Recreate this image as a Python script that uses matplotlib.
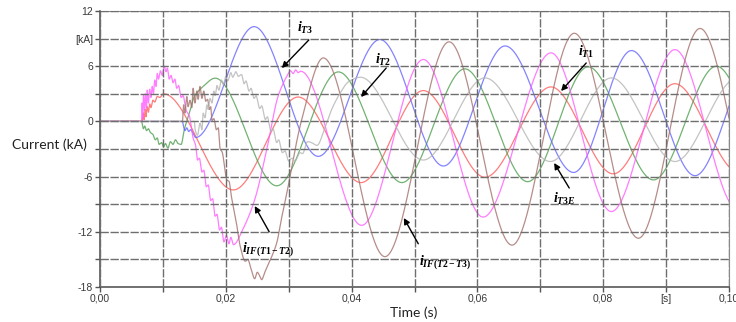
import numpy as np
import matplotlib
matplotlib.use("Agg")
import matplotlib.pyplot as plt

plt.rcParams['mathtext.fontset'] = 'custom'
plt.rcParams['mathtext.it'] = 'Liberation Serif:italic:bold'
plt.rcParams['mathtext.rm'] = 'Liberation Serif:bold'
plt.rcParams['mathtext.bf'] = 'Liberation Serif:bold'

# ---------------- data (time in s, current in kA) ----------------
red_t = [0, 0.0067, 0.0069, 0.0070, 0.0072, 0.0073, 0.0075, 0.0077, 0.0079, 0.0081, 0.0084,
         0.0087, 0.0091, 0.0095, 0.0101, 0.0212, 0.0315, 0.0415, 0.0514, 0.0612, 0.0717,
         0.0816, 0.0914, 0.1015]
red_v = [0, 0, 0.9, 0.2, 1.3, 0.5, 1.6, 1.0, 1.9, 1.5, 2.3,
         2.1, 2.7, 2.6, 3.0, -7.45, 2.65, -6.65, 3.35, -6.07, 3.75,
         -5.7, 4.1, -5.5]

green_t = [0, 0.0066, 0.0069, 0.0071, 0.0074, 0.0077, 0.0080, 0.0084, 0.0088, 0.0091, 0.0094,
           0.0098, 0.0101, 0.0104, 0.0108, 0.0112, 0.0116, 0.0120, 0.0124, 0.0129, 0.0134,
           0.0142, 0.0150, 0.0164, 0.0183, 0.0281, 0.0379, 0.0480, 0.0580, 0.0680, 0.0776,
           0.0880, 0.0980, 0.1080]
green_v = [0, 0, -0.8, -0.5, -1.0, -0.8, -1.2, -1.4, -2.0, -1.8, -2.5,
           -2.3, -2.8, -2.4, -2.9, -2.2, -2.5, -2.0, -2.4, -2.5, -0.9,
           0.9, 2.7, 3.8, 4.7, -7.0, 5.38, -6.65, 5.71, -6.55, 5.93,
           -6.36, 6.0, -6.3]

blue_t = [0, 0.0131, 0.0133, 0.0135, 0.0138, 0.0141, 0.0144, 0.0148, 0.0152, 0.0245, 0.0347,
          0.0445, 0.0546, 0.0644, 0.0753, 0.0845, 0.0946, 0.1045]
blue_v = [0, 0, -0.6, -1.0, -0.7, -1.1, -0.9, -1.3, -1.75, 10.3, -3.8,
          8.9, -4.85, 8.2, -5.55, 7.7, -5.9, 7.4]

magenta_t = [0, 0.0066, 0.0067, 0.0068, 0.0069, 0.0071, 0.0072, 0.0074, 0.0075, 0.0077, 0.0079,
             0.0081, 0.0083, 0.0085, 0.0087, 0.0089, 0.0091, 0.0093, 0.0096, 0.0099, 0.0102,
             0.0105, 0.0107, 0.0110, 0.0113, 0.0116, 0.0119, 0.0122, 0.0125, 0.0129, 0.0132,
             0.0137, 0.0142, 0.0148, 0.0152, 0.0155, 0.0158, 0.0162, 0.0165, 0.0169, 0.0172,
             0.0176, 0.0179, 0.0183, 0.0186, 0.0190, 0.0193, 0.0197, 0.0201, 0.0205, 0.0208,
             0.0212, 0.0228, 0.0246, 0.0265, 0.0283, 0.0297, 0.0303, 0.0307, 0.0311, 0.0315,
             0.0319, 0.0416, 0.0514, 0.0609, 0.0717, 0.0813, 0.0914, 0.1013]
magenta_v = [0, 0, 2.0, 0.3, 2.8, 1.2, 3.0, 1.5, 3.4, 2.0, 3.5,
             2.6, 3.8, 3.0, 4.5, 3.8, 5.2, 4.6, 5.5, 5.0, 6.0,
             5.4, 5.8, 4.6, 5.0, 4.2, 4.6, 3.6, 3.9, 2.6, 2.8,
             1.2, 0.6, -1.8, -2.6, -4.2, -4.0, -5.5, -5.3, -7.1, -6.9,
             -8.6, -8.4, -10.3, -10.1, -11.8, -11.5, -13.1, -12.4, -13.3, -12.6,
             -13.4, -11.6, -8.5, -3.1, 2.7, 4.9, 5.5, 5.2, 5.6, 5.3,
             5.45, -11.3, 6.73, -10.4, 7.45, -9.8, 7.8, -9.5]

brown_t = [0, 0.0131, 0.0133, 0.0135, 0.0138, 0.0140, 0.0143, 0.0146, 0.0148, 0.0151, 0.0154,
           0.0156, 0.0159, 0.0162, 0.0165, 0.0168, 0.0171, 0.0174, 0.0176, 0.0178, 0.0181,
           0.0185, 0.0188, 0.0191, 0.0194, 0.0202, 0.0205, 0.0209, 0.0217, 0.0223, 0.0231,
           0.0235, 0.0240, 0.0246, 0.0250, 0.0254, 0.0257, 0.0262, 0.0267, 0.0273, 0.0281,
           0.0289, 0.0297, 0.0320, 0.0355, 0.0453, 0.0555, 0.0655, 0.0754, 0.0856, 0.0954,
           0.1055]
brown_v = [0, 0, 1.8, 0.9, 2.7, 1.6, 2.3, 1.5, 3.6, 2.0, 3.3,
           2.4, 3.8, 2.5, 3.3, 2.2, 2.4, 1.3, 1.6, 0.1, 0.3,
           -0.9, -0.7, -3.0, -3.3, -6.4, -6.5, -8.2, -11.1, -13.6, -15.2,
           -15.0, -16.0, -17.1, -16.4, -16.8, -17.2, -16.4, -15.6, -14.7, -13.2,
           -10.4, -7.8, 0.0, 6.9, -14.7, 8.65, -13.45, 9.58, -12.7, 10.1,
           -12.4]

gray_t = [0, 0.0150, 0.0151, 0.0155, 0.0159, 0.0162, 0.0164, 0.0167, 0.0170, 0.0172, 0.0175,
          0.0178, 0.0181, 0.0183, 0.0186, 0.0189, 0.0193, 0.0196, 0.0200, 0.0203, 0.0208,
          0.0211, 0.0216, 0.0220, 0.0225, 0.0229, 0.0232, 0.0237, 0.0240, 0.0245, 0.0248,
          0.0254, 0.0257, 0.0263, 0.0266, 0.0272, 0.0275, 0.0281, 0.0284, 0.0290, 0.0294,
          0.0300, 0.0305, 0.0310, 0.0318, 0.0322, 0.0330, 0.0336, 0.0345, 0.0358, 0.0368,
          0.0382, 0.0395, 0.0414, 0.0514, 0.0612, 0.0716, 0.0813, 0.0914, 0.1013]
gray_v = [0, 0, -0.8, -1.5, -0.2, -0.9, 0.9, 0.4, 1.8, 1.3, 2.5,
          2.0, 3.3, 2.8, 3.9, 3.4, 4.5, 4.0, 4.9, 4.4, 5.3,
          4.8, 5.4, 4.9, 5.1, 4.1, 4.4, 3.3, 3.6, 2.5, 2.8,
          1.4, 1.7, 0.2, 0.5, -1.1, -0.8, -2.3, -2.0, -3.4, -3.2,
          -4.3, -4.0, -4.3, -3.4, -3.5, -2.2, -2.3, -2.6, -0.6, 1.25,
          3.1, 4.3, 4.8, -4.2, 4.73, -4.36, 4.73, -4.36, 4.7]

series = [
    (red_t, red_v, '#ff5c5c'),
    (green_t, green_v, '#4f9f4f'),
    (blue_t, blue_v, '#6464ff'),
    (magenta_t, magenta_v, '#ff5cff'),
    (brown_t, brown_v, '#a3706b'),
    (gray_t, gray_v, '#b4b4b4'),
]

y_ticks = [-18, -15, -12, -9, -6, -3, 0, 3, 6, 9, 12]
y_labels = ['-18', '', '-12', '', '-6', '', '0', '', '6', '[kA]', '12']
x_ticks = [0.0, 0.01, 0.02, 0.03, 0.04, 0.05, 0.06, 0.07, 0.08, 0.09, 0.10]
x_labels = ['0,00', '', '0,02', '', '0,04', '', '0,06', '', '0,08', '[s]', '0,10']

annotations = [  # label, text position, arrow tail, arrow head
    (r'$i_{T3}$', (0.0326, 10.15), (0.0332, 8.85), (0.0289, 5.8)),
    (r'$i_{T2}$', (0.0450, 6.67), (0.0455, 5.8), (0.0415, 2.65)),
    (r'$i_{T1}$', (0.0773, 7.54), (0.0773, 6.35), (0.0733, 3.3)),
    (r'$i_{T3E}$', (0.0739, -8.43), (0.0746, -7.24), (0.0722, -4.52)),
    (r'$i_{IF(T1-T2)}$', (0.0267, -13.85), (0.0269, -12.0), (0.0246, -9.2)),
    (r'$i_{IF(T2-T3)}$', (0.0548, -15.3), (0.0506, -13.3), (0.0483, -10.5)),
]


def pchip(x, y, xn):
    x = np.asarray(x, float)
    y = np.asarray(y, float)
    h = np.diff(x)
    d = np.diff(y) / h
    n = len(x)
    m = np.zeros(n)
    for k in range(1, n - 1):
        if d[k - 1] * d[k] > 0:
            w1 = 2 * h[k] + h[k - 1]
            w2 = h[k] + 2 * h[k - 1]
            m[k] = (w1 + w2) / (w1 / d[k - 1] + w2 / d[k])
    idx = np.clip(np.searchsorted(x, xn, side='right') - 1, 0, n - 2)
    s = (xn - x[idx]) / h[idx]
    h00 = 2 * s**3 - 3 * s**2 + 1
    h10 = s**3 - 2 * s**2 + s
    h01 = -2 * s**3 + 3 * s**2
    h11 = s**3 - s**2
    return h00 * y[idx] + h10 * h[idx] * m[idx] + h01 * y[idx + 1] + h11 * h[idx] * m[idx + 1]


fig = plt.figure(figsize=(7.36, 3.22), dpi=100)
ax = fig.add_axes([100 / 736, 1 - 287 / 322, 629 / 736, 276 / 322])

for t, v, c in series:
    tn = np.linspace(0, max(t), 8000)
    ax.plot(tn, pchip(t, v, tn), color=c, lw=0.9, alpha=0.8, zorder=2, solid_joinstyle='round')

ax.set_xlim(0, 0.1)
ax.set_ylim(-18, 12)
ax.set_xticks(x_ticks)
ax.set_xticklabels(x_labels)
ax.set_yticks(y_ticks)
ax.set_yticklabels(y_labels)
ax.grid(True, ls=(0, (6, 1.2)), color='#6e6e6e', lw=1.0, zorder=3)
ax.set_axisbelow(False)

for lab in ax.get_xticklabels() + ax.get_yticklabels():
    lab.set_family('Liberation Sans')
    lab.set_fontsize(7.5)
    lab.set_color('#3a3a3a')
ax.tick_params(axis='both', length=3.5, width=1.0, color='#555555', pad=1.5)

for s in ['left', 'bottom']:
    ax.spines[s].set_color('#4a4a4a')
    ax.spines[s].set_linewidth(1.1)
for s in ['top', 'right']:
    ax.spines[s].set_color('#8a8a8a')
    ax.spines[s].set_linewidth(0.8)

for label, tp, tail, head in annotations:
    ax.annotate('', xy=head, xytext=tail,
                arrowprops=dict(arrowstyle='-|>', color='black', lw=1.0,
                                mutation_scale=9, shrinkA=0, shrinkB=0), zorder=5)
    ax.text(tp[0], tp[1], label, fontsize=10, ha='center', va='center', color='black', zorder=6)

fig.text(12 / 736, 1 - 145 / 322, 'Current (kA)', family='Lato', fontsize=10,
         ha='left', va='center', color='#222222')
fig.text(414 / 736, 1 - 313 / 322, 'Time (s)', family='Lato', fontsize=10,
         ha='center', va='center', color='#222222')

fig.savefig('out.png', dpi=100)
